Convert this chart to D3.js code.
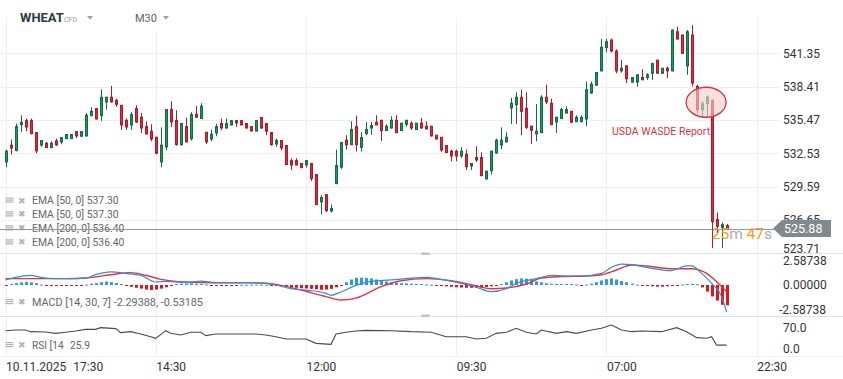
<!DOCTYPE html>
<html><head><meta charset="utf-8">
<script src="https://cdn.jsdelivr.net/npm/d3@7"></script>
<style>body{margin:0;background:#fff;overflow:hidden}svg{display:block;font-family:Roboto,"Noto Sans",sans-serif}</style>
</head><body><svg id="c" width="843" height="379"></svg>
<script>
// ---- data ----
const opens=[531.77,533.24,532.77,535.06,535.41,535.41,534.35,533.26,533.41,533.03,533.62,533.53,533.82,533.82,534.44,534.03,534.06,535.85,536.47,535.85,537.06,537.47,537.20,536.76,535.44,535.03,536.47,535.71,534.88,534.47,533.94,531.77,533.09,536.38,535.41,533.29,534.88,533.82,535.97,535.59,534.38,533.79,534.32,535.15,534.76,535.03,535.41,535.41,535.15,534.88,534.50,535.68,535.15,534.35,533.35,533.65,533.21,531.88,531.88,531.62,531.50,531.62,530.65,528.24,528.88,527.44,529.85,531.30,533.68,533.29,534.88,533.06,534.26,534.76,535.26,535.44,534.53,534.76,535.44,534.53,535.09,535.18,534.62,535.18,534.91,534.91,534.12,533.94,533.21,532.71,532.71,532.29,532.44,531.41,532.15,532.15,530.27,531.00,532.56,533.26,533.53,536.53,536.82,537.47,536.50,534.91,534.24,534.35,537.47,536.94,535.29,535.59,536.08,536.23,535.32,535.32,535.56,537.84,538.54,539.80,541.85,542.52,541.55,539.80,540.24,538.81,538.81,539.21,539.21,539.59,540.74,539.59,540.03,539.80,543.25,542.96,540.24,542.96,538.42,536.38,536.90,537.20,526.67,525.99,526.14];
const highs=[532.85,533.74,535.15,535.88,535.59,535.59,534.40,533.70,533.53,533.59,533.82,533.95,534.20,534.20,534.45,534.45,536.09,536.59,536.50,538.17,537.50,538.47,537.35,536.80,535.59,536.15,536.76,536.09,535.35,535.09,534.00,534.82,536.40,537.12,536.32,535.20,535.65,536.15,536.70,536.94,534.40,534.62,535.12,535.59,535.59,535.45,535.45,535.45,535.20,534.90,535.45,535.70,535.20,534.40,533.82,533.70,533.25,532.09,532.09,531.65,531.90,531.65,530.70,528.83,528.90,528.00,532.85,533.50,534.12,535.35,535.85,534.38,535.29,535.29,535.88,535.47,535.09,535.79,535.88,535.20,535.47,535.35,535.20,535.65,535.35,534.95,534.15,533.95,533.25,532.85,532.85,533.06,532.85,531.65,533.15,532.62,531.00,532.75,533.82,534.82,534.38,537.41,537.91,538.15,537.91,534.95,536.88,537.65,538.59,537.35,535.75,536.53,536.67,536.25,535.88,535.88,538.86,538.86,539.70,542.61,542.64,542.64,541.70,540.76,540.25,539.25,539.50,539.95,539.60,540.53,540.78,540.05,540.18,543.45,543.69,543.00,543.40,543.84,538.57,537.11,537.64,537.25,527.31,526.43,526.29];
const lows=[531.30,532.41,532.70,534.41,534.47,534.20,532.53,533.09,533.00,533.00,533.20,533.35,533.80,533.80,533.88,534.00,534.00,535.80,535.50,535.38,536.38,537.00,536.62,534.59,534.59,534.59,535.20,534.32,534.20,533.59,532.45,531.30,532.79,534.85,533.20,533.20,533.50,533.65,535.65,535.55,533.35,533.59,534.03,534.56,534.70,535.00,534.85,535.00,534.70,534.45,534.45,534.70,534.12,533.20,533.09,532.79,531.50,531.06,531.45,531.20,531.27,530.09,527.95,527.12,527.33,527.30,529.80,531.15,532.85,533.25,532.68,532.68,534.12,534.15,535.00,533.62,534.50,534.70,534.30,534.50,534.88,534.59,534.60,534.70,534.65,534.00,533.75,532.65,532.55,531.82,531.82,532.12,531.06,531.06,531.77,530.50,530.20,530.65,532.50,532.88,533.50,535.12,535.12,534.12,534.65,533.35,533.59,534.30,536.88,535.00,534.32,535.55,536.05,535.20,535.30,535.25,534.91,537.80,538.50,539.75,541.44,541.41,539.59,539.65,538.72,538.75,538.40,539.00,539.01,539.01,539.55,539.55,539.16,539.75,542.55,541.30,539.45,538.42,536.08,535.65,535.65,524.15,525.41,524.15,525.80];
const closes=[532.71,533.00,534.88,535.26,534.85,534.26,532.74,533.65,533.03,533.41,533.26,533.91,534.18,534.18,534.06,534.44,535.88,536.23,535.56,537.47,537.47,537.06,536.85,535.03,534.85,535.94,535.29,534.76,534.24,533.79,532.53,533.24,536.38,535.29,533.29,535.15,533.53,535.94,535.71,536.68,533.53,534.21,534.88,534.76,535.15,535.41,535.21,535.03,534.76,534.50,535.41,534.76,534.47,533.29,533.65,533.00,531.53,531.50,531.50,531.27,531.88,530.30,528.00,528.62,527.47,527.65,531.44,533.47,533.27,534.62,533.29,533.91,534.62,534.97,535.03,534.53,534.91,535.44,534.35,535.18,535.44,534.76,535.18,534.76,534.68,534.06,533.79,532.82,532.59,532.29,532.29,532.71,531.35,531.62,531.94,530.56,530.94,532.71,533.68,533.68,533.94,536.94,537.47,536.23,534.82,534.56,534.47,537.47,537.06,535.06,535.71,536.38,536.38,535.27,535.70,535.70,538.13,538.63,539.65,541.88,542.37,541.55,539.80,540.03,539.10,539.21,539.45,539.01,539.45,540.44,539.59,540.03,539.80,543.40,542.61,541.35,543.25,538.72,536.38,536.90,537.49,526.49,526.08,526.23,525.88];

const macdHist=[-0.04,0.08,0.15,0.22,0.26,0.22,0.15,0.04,-0.08,-0.09,-0.09,-0.08,-0.06,-0.08,-0.05,-0.02,0.04,0.11,0.15,0.23,0.29,0.24,0.17,0.09,-0.08,-0.15,-0.23,-0.30,-0.38,-0.42,-0.38,-0.30,-0.19,-0.08,0.08,0.11,0.11,0.15,0.11,0.09,0.04,-0.04,-0.08,-0.08,-0.06,-0.04,-0.02,0.02,0.02,0.04,0.04,0.03,0.02,-0.04,-0.08,-0.11,-0.15,-0.19,-0.23,-0.27,-0.29,-0.32,-0.36,-0.40,-0.38,-0.32,-0.19,-0.04,0.23,0.46,0.60,0.61,0.59,0.55,0.46,0.36,0.29,0.23,0.19,0.15,0.14,0.11,0.09,0.08,0.05,0.02,-0.04,-0.08,-0.11,-0.15,-0.19,-0.21,-0.23,-0.24,-0.23,-0.21,-0.17,-0.11,-0.04,0.08,0.23,0.38,0.49,0.55,0.53,0.42,0.30,0.23,0.15,0.09,0.08,0.08,0.09,0.08,0.04,-0.04,0.04,0.11,0.23,0.38,0.49,0.55,0.46,0.34,0.23,0.11,0.04,-0.06,-0.09,-0.11,-0.14,-0.14,-0.11,-0.08,-0.04,0.04,0.08,0.09,0.06,-0.20,-0.55,-0.95,-1.30,-1.65,-1.70];
const macdIdx=[0,2,5,7,10,13,16,18,21,24,27,30,32,36,39,42,49,52,54,57,60,64,65,67,70,73,77,80,84,87,91,94,97,100,102,106,109,112,115,119,121,123,125,128,133,136,137,139,141,143,144];
const macdVals=[0.42,0.64,0.81,0.64,0.53,0.53,0.58,0.86,1.09,0.97,0.81,0.25,0.31,0.19,0.33,0.19,0.19,0.14,0,-0.31,-0.42,-0.70,-0.86,-0.58,-0.03,0.31,0.42,0.53,0.64,0.47,0.14,-0.19,-0.56,-0.31,0.14,0.53,0.81,0.75,0.75,0.97,1.47,1.75,1.70,1.47,1.20,1.59,1.59,0.97,0.14,-0.97,-2.25];
const signalIdx=[0,8,12,16,21,25,28,31,36,42,48,52,55,59,64,67,70,75,79,84,89,93,97,100,104,107,111,116,119,122,125,128,133,137,140,142,144];
const signalVals=[0.53,0.53,0.53,0.58,0.86,1.03,0.81,0.47,0.25,0.19,0.19,0.14,-0.03,-0.42,-0.97,-1.25,-1.09,-0.14,0.36,0.53,0.36,0.03,-0.31,-0.25,0.08,0.58,0.70,0.75,0.86,1.25,1.67,1.59,1.36,1.36,0.97,0.28,-0.56];
const rsiIdx=[0,2,4,5,8,10,12,14,16,18,19,22,23,25,27,29,30,32,33,35,37,39,40,42,46,50,52,54,56,60,62,65,66,68,70,72,77,81,85,88,92,94,96,98,100,102,104,106,107,110,112,114,117,119,121,123,125,127,131,134,136,138,140,141,142,144];
const rsiVals=[64,65.8,65.8,61.4,60.5,57,60,63,67.5,67.5,72,69.5,58.8,61.4,55.3,48.2,43.9,64,57,52.6,60,60,50.9,55.3,55.3,55.3,52.6,48.2,42.1,42.1,30.7,28.1,55.3,60,63,64.9,64,61.4,60,48.2,48.2,42.1,43.9,57,60,70.2,60,55.3,65.8,57,61.4,57,65.8,70.2,78.9,65.8,61.4,63,61.4,72,61.4,45.6,43.9,48.2,25.9,25.9];

const priceTicks=[541.35,538.41,535.47,532.53,529.59,526.65,523.71];
const macdTicks=[2.58738,0,-2.58738];
const macdTickLabels=["2.58738","0.00000","-2.58738"];
const rsiTicks=[70,0];
const rsiTickLabels=["70.0","0.0"];
const xTickIdx=[0,30,60,90,120,150];
const xTickLabels=["10.11.2025 17:30","14:30","12:00","09:30","07:00","22:30"];
const legendMain=["EMA [50, 0] 537.30","EMA [50, 0] 537.30","EMA [200, 0] 536.40","EMA [200, 0] 536.40"];
const macdLegend="MACD [14, 30, 7] -2.29388,  -0.53185";
const rsiLegend=["RSI [14","25.9"];
const annotationText="USDA WASDE Report";
const annotationIdx=139.9, annotationPrice=537.03;
const lastPrice=525.88;

// ---- drawing ----
const svg=d3.select("#c");
const xS=d3.scaleLinear().domain([0,150]).range([5.5,756.7]);
const yP=d3.scaleLinear().domain([523.71,541.35]).range([253.2,53.3]);
const yM=d3.scaleLinear().domain([-2.58738,2.58738]).range([316,254]);
const yR=d3.scaleLinear().domain([0,100]).range([355,317]);
const px=v=>Math.round(v)+0.5;
const GRID="#efefef";

// grid
const g=svg.append("g");
priceTicks.slice(0,6).forEach(v=>g.append("line").attr("x1",0).attr("x2",780).attr("y1",px(yP(v))).attr("y2",px(yP(v))).attr("stroke",GRID));
xTickIdx.forEach(i=>g.append("line").attr("x1",px(xS(i))).attr("x2",px(xS(i))).attr("y1",18).attr("y2",357).attr("stroke",GRID));
[253.5,316.5].forEach(y=>g.append("line").attr("x1",0).attr("x2",843).attr("y1",y).attr("y2",y).attr("stroke","#e3e3e3"));
g.append("line").attr("x1",0).attr("x2",843).attr("y1",356.5).attr("y2",356.5).attr("stroke","#f2f2f2");
[254,316].forEach(y=>g.append("rect").attr("x",421).attr("y",y-1.5).attr("width",9).attr("height",2.5).attr("rx",1).attr("fill","#c4c4c4"));

// header
svg.append("rect").attr("x",120).attr("y",0).attr("width",70).attr("height",32).attr("fill","#fff");
svg.append("text").attr("x",20).attr("y",22).attr("font-size",13).attr("font-weight",700).attr("fill","#2d3a45").text("WHEAT");
svg.append("text").attr("x",64).attr("y",22).attr("font-size",7).attr("fill","#9aa0a6").text("CFD");
svg.append("path").attr("d","M87,16 L93,16 L90,19.5 Z").attr("fill","#9aa0a6");
svg.append("text").attr("x",135).attr("y",22).attr("font-size",11).attr("fill","#5a6169").text("M30");
svg.append("path").attr("d","M163,16 L169,16 L166,19.5 Z").attr("fill","#9aa0a6");

// legend icons
function icon(y){
  const ig=svg.append("g");
  [-2.5,-0.5,1.5].forEach(d=>ig.append("rect").attr("x",5.5).attr("y",y+d-0.5).attr("width",8).attr("height",1.2).attr("fill","#b3b3b3"));
  ig.append("text").attr("x",18).attr("y",y+3).attr("font-size",8.5).attr("fill","#b3b3b3").text("\u2716");
}
const legY=[200.5,214.3,228.3,242.3];
legendMain.forEach((t,k)=>{icon(legY[k]);svg.append("text").attr("x",32).attr("y",legY[k]+3.7).attr("font-size",10.4).attr("fill","#666").text(t);});
icon(302);
svg.append("text").attr("x",32).attr("y",305.7).attr("font-size",10.8).attr("fill","#666").text(macdLegend);
icon(345);
svg.append("text").attr("x",32).attr("y",348.7).attr("font-size",10.2).attr("fill","#666").text(rsiLegend[0]);
svg.append("text").attr("x",70).attr("y",348.7).attr("font-size",10.2).attr("fill","#666").text(rsiLegend[1]);

// current price line
svg.append("line").attr("x1",0).attr("x2",776).attr("y1",px(yP(lastPrice))).attr("y2",px(yP(lastPrice))).attr("stroke","#8f999e");

// candles
const GREEN="#1b9a5c",GREEN_D="#0f6e40",RED="#e12a3d",RED_D="#ad1b2b";
const cg=svg.append("g");
opens.forEach((o,i)=>{
  const c=closes[i],up=c>=o,cx=px(xS(i));
  const col=up?GREEN_D:RED_D;
  cg.append("line").attr("x1",cx).attr("x2",cx).attr("y1",yP(highs[i])).attr("y2",yP(lows[i])).attr("stroke",col);
  const t=yP(Math.max(o,c)),b=yP(Math.min(o,c));
  cg.append("rect").attr("x",cx-1).attr("y",t).attr("width",2).attr("height",Math.max(1,b-t))
    .attr("fill",up?GREEN:RED).attr("stroke",col).attr("stroke-width",1);
});

// annotation
svg.append("ellipse").attr("cx",xS(annotationIdx)).attr("cy",yP(annotationPrice)).attr("rx",20).attr("ry",15)
  .attr("fill","rgba(246,205,205,0.62)").attr("stroke","#d8353d").attr("stroke-width",1.3);
svg.append("text").attr("x",xS(annotationIdx)+4).attr("y",yP(annotationPrice)+32.5).attr("text-anchor","end")
  .attr("font-size",10.5).attr("fill","#d8353d").text(annotationText);

// MACD
const mg=svg.append("g");
macdHist.forEach((v,i)=>{
  const cx=xS(i);
  mg.append("rect").attr("x",Math.round(cx)-1).attr("width",3)
    .attr("y",v>=0?yM(v):yM(0)).attr("height",Math.max(1,Math.abs(yM(v)-yM(0))))
    .attr("fill",v>=0?"#3796dc":"#e0141c");
});
const lineM=d3.line().x(d=>xS(d[0])).y(d=>yM(d[1])).curve(d3.curveMonotoneX);
mg.append("path").attr("d",lineM(signalIdx.map((k,j)=>[k,signalVals[j]]))).attr("fill","none").attr("stroke","#e8333a").attr("stroke-width",1.4);
mg.append("path").attr("d",lineM(macdIdx.map((k,j)=>[k,macdVals[j]]))).attr("fill","none").attr("stroke","#2f90d8").attr("stroke-width",1.2);

// RSI
const lineR=d3.line().x(d=>xS(d[0])).y(d=>yR(d[1]));
svg.append("path").attr("d",lineR(rsiIdx.map((k,j)=>[k,rsiVals[j]]))).attr("fill","none").attr("stroke","#4a4a4a").attr("stroke-width",1.1);

// right axis labels
const ax=svg.append("g").attr("font-size",12).attr("fill","#333");
priceTicks.forEach(v=>ax.append("text").attr("x",783).attr("y",Math.min(yP(v),249)).attr("dy","0.36em").text(v.toFixed(2)));
const mLabY=[261,284.7,310];
macdTicks.forEach((v,k)=>ax.append("text").attr("x",v<0?779:783).attr("y",mLabY[k]).attr("dy","0.36em").text(macdTickLabels[k]));
const rLabY=[327.5,349];
rsiTicks.forEach((v,k)=>ax.append("text").attr("x",783).attr("y",rLabY[k]).attr("dy","0.36em").text(rsiTickLabels[k]));

// x labels
xTickIdx.forEach((i,k)=>{
  const parts=xTickLabels[k].split(" ");
  const t=ax.append("text").attr("x",xS(i)+0.5).attr("y",371).text(parts[0]);
  if(parts[1]) t.append("tspan").attr("dx",7).text(parts[1]);
});

// price tag
const ty=yP(lastPrice);
svg.append("path").attr("d",`M773,${ty} L782,${ty-8.5} L831,${ty-8.5} L831,${ty+8.5} L782,${ty+8.5} Z`).attr("fill","#7f898e");
svg.append("text").attr("x",784).attr("y",ty).attr("dy","0.36em").attr("font-size",12.5).attr("fill","#fff").text(lastPrice.toFixed(2));
const cd=svg.append("text").attr("x",772).attr("y",ty+10.5).attr("text-anchor","end").attr("font-size",15.5);
cd.append("tspan").attr("fill","#f5a11c").text("25");
cd.append("tspan").attr("fill","#a9adb0").text("m ");
cd.append("tspan").attr("fill","#f5a11c").text("47");
cd.append("tspan").attr("fill","#a9adb0").text("s");
</script></body></html>
